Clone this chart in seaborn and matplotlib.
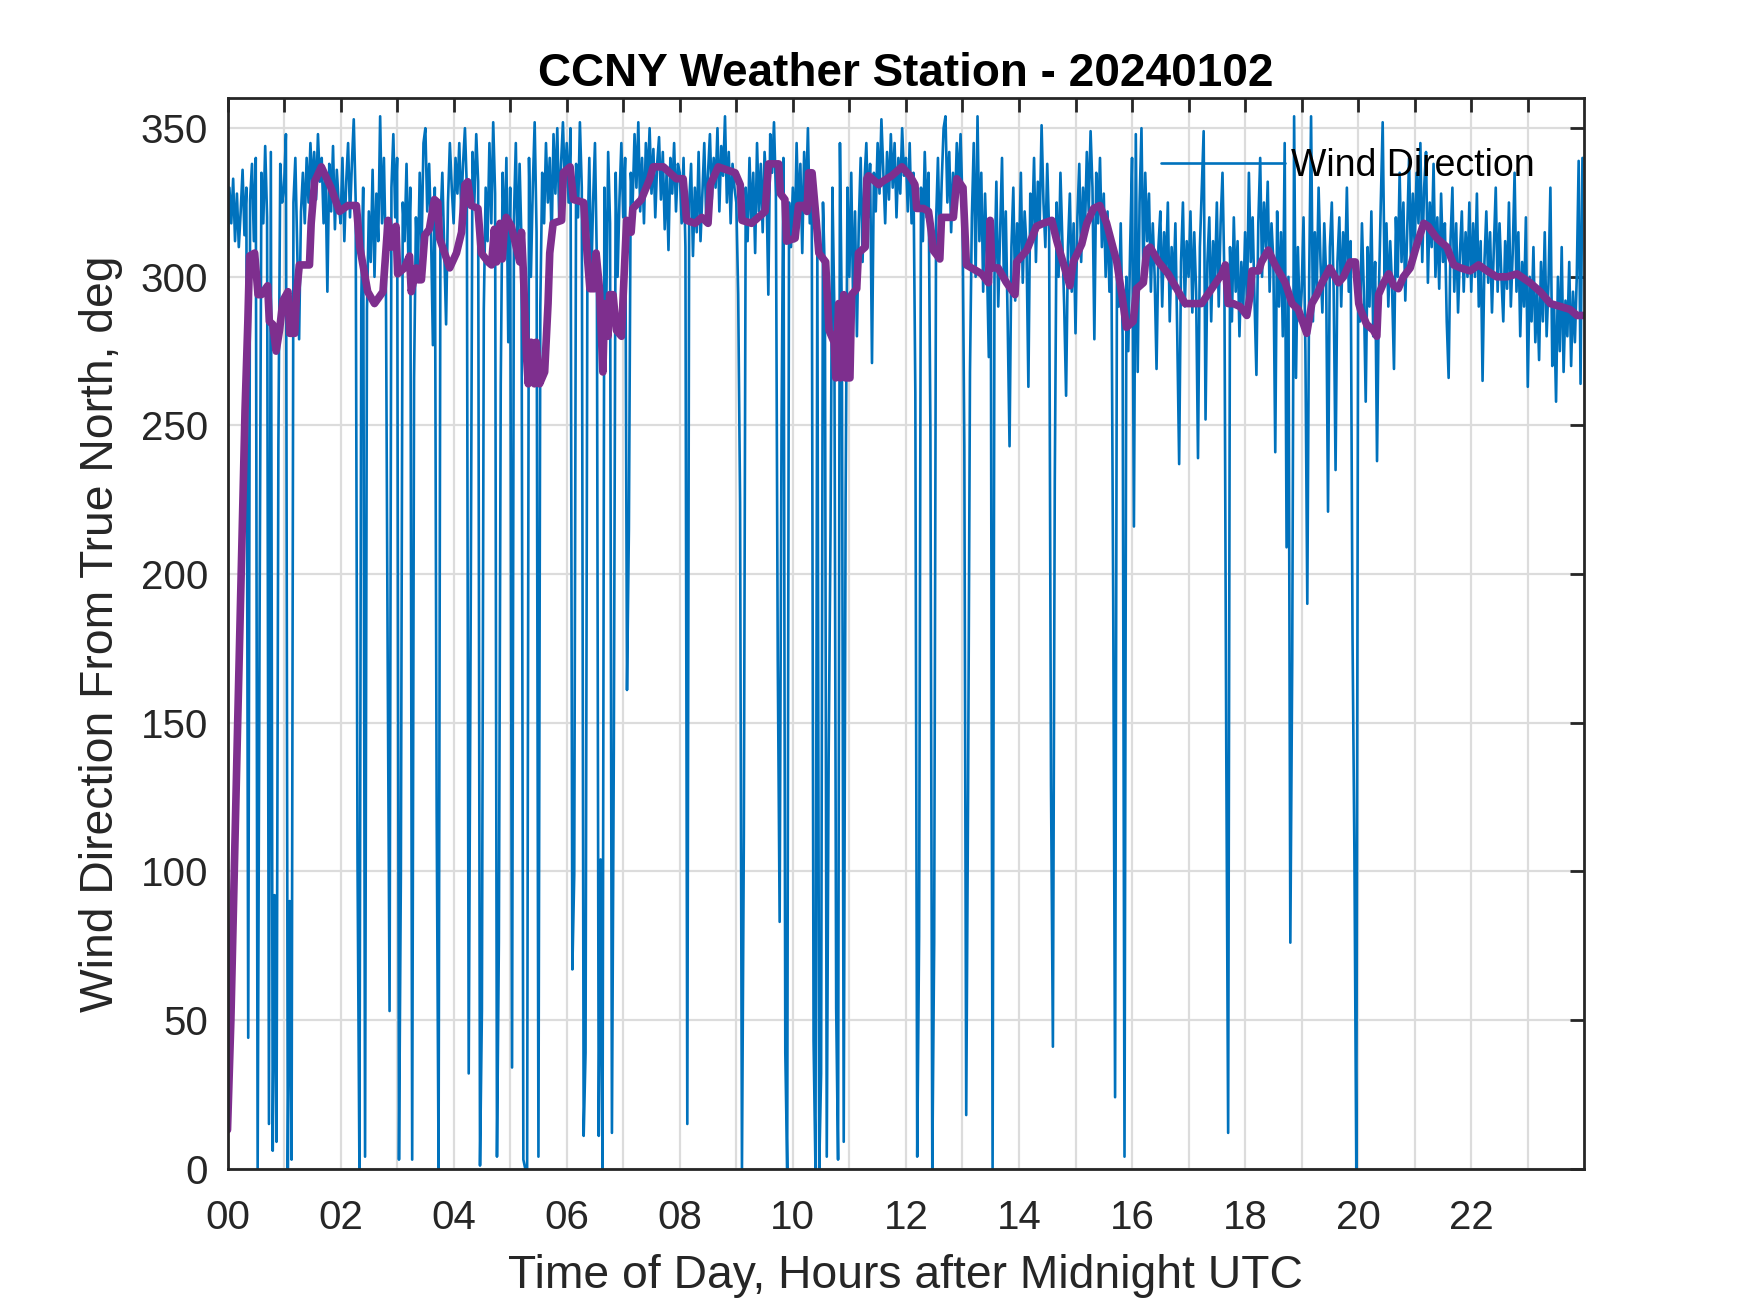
import numpy as np
import matplotlib
matplotlib.use("Agg")
import matplotlib.pyplot as plt
import seaborn as sns

# wind direction samples (deg from true north), one every 2 minutes
SAMPLE_MIN = 2

dir_00_04 = [
    305, 330, 318, 333, 312, 328, 310, 322, 336, 314, 330, 44, 326, 338, 312, 340, 0, 180, 335, 318, 344, 320, 15, 342, 6, 92, 9, 243, 338, 325,
    330, 348, 0, 90, 3, 325, 340, 310, 279, 322, 335, 318, 340, 325, 345, 330, 342, 326, 348, 332, 340, 318, 335, 295, 338, 322, 344, 316, 336, 325,
    318, 340, 312, 332, 345, 320, 338, 353, 326, 103, 0, 292, 330, 4, 289, 322, 305, 336, 300, 328, 312, 354, 318, 340, 306, 172, 53, 330, 348, 320,
    340, 3, 99, 325, 312, 338, 305, 330, 3, 266, 320, 300, 335, 310, 345, 350, 322, 338, 315, 277, 330, 120, 0, 318, 335, 310, 284, 325, 345, 330,
]
dir_04_08 = [
    318, 340, 328, 345, 322, 338, 350, 330, 32, 178, 342, 325, 348, 332, 1, 53, 289, 330, 312, 345, 318, 352, 328, 4, 76, 264, 335, 310, 340, 278,
    330, 34, 320, 345, 305, 338, 312, 3, 0, 0, 340, 300, 330, 352, 315, 4, 290, 335, 318, 345, 325, 340, 312, 348, 328, 350, 320, 338, 352, 330,
    345, 325, 350, 67, 99, 338, 320, 352, 330, 11, 39, 310, 340, 298, 325, 345, 305, 11, 104, 0, 330, 290, 342, 318, 12, 141, 335, 300, 326, 345,
    320, 340, 161, 215, 335, 325, 348, 330, 352, 322, 340, 318, 345, 332, 350, 328, 343, 320, 338, 347, 326, 342, 316, 335, 309, 340, 328, 345, 322, 338,
]
dir_08_12 = [
    335, 318, 340, 310, 15, 325, 338, 307, 330, 315, 342, 312, 328, 345, 320, 335, 348, 326, 340, 330, 350, 322, 344, 334, 354, 325, 342, 318, 338, 330,
    325, 294, 224, 0, 112, 330, 312, 340, 318, 335, 308, 345, 322, 338, 315, 342, 330, 294, 348, 335, 352, 328, 171, 83, 250, 340, 39, 0, 325, 310,
    330, 312, 345, 320, 338, 308, 342, 325, 350, 318, 335, 43, 0, 310, 0, 32, 325, 300, 4, 138, 215, 330, 290, 54, 3, 345, 285, 9, 225, 330,
    300, 335, 290, 322, 280, 318, 340, 305, 332, 345, 320, 338, 271, 335, 322, 345, 328, 353, 335, 318, 342, 326, 348, 330, 345, 320, 340, 328, 350, 334,
]
dir_12_16 = [
    340, 322, 345, 318, 335, 261, 4, 78, 330, 312, 342, 320, 335, 248, 0, 76, 318, 340, 310, 332, 350, 354, 325, 342, 315, 335, 322, 345, 330, 348,
    325, 243, 18, 127, 268, 320, 345, 300, 354, 312, 335, 295, 328, 305, 273, 318, 0, 300, 332, 290, 315, 340, 298, 322, 285, 243, 310, 330, 292, 318,
    305, 335, 298, 322, 310, 263, 328, 315, 340, 305, 332, 318, 351, 325, 310, 338, 315, 129, 41, 231, 325, 300, 335, 312, 290, 260, 310, 328, 295, 318,
    281, 320, 338, 305, 330, 315, 342, 322, 349, 330, 279, 335, 318, 340, 310, 328, 300, 322, 295, 312, 192, 24, 305, 290, 318, 280, 4, 300, 275, 310,
]
dir_16_20 = [
    340, 216, 348, 268, 325, 350, 300, 335, 312, 328, 295, 318, 300, 269, 310, 322, 290, 315, 302, 325, 285, 310, 296, 318, 280, 237, 305, 325, 290, 312,
    300, 322, 288, 315, 295, 239, 310, 330, 349, 252, 305, 320, 285, 312, 298, 325, 290, 318, 335, 300, 141, 12, 310, 285, 320, 295, 312, 280, 305, 290,
    315, 290, 335, 305, 320, 292, 267, 318, 340, 300, 325, 310, 332, 295, 318, 305, 241, 322, 290, 315, 280, 345, 209, 300, 76, 171, 354, 266, 310, 285,
    295, 320, 275, 190, 300, 354, 285, 315, 295, 330, 305, 288, 318, 300, 221, 310, 325, 295, 235, 305, 320, 290, 315, 300, 330, 295, 312, 179, 106, 0,
]
dir_20_24 = [
    300, 285, 318, 295, 258, 310, 290, 322, 280, 305, 238, 295, 325, 352, 300, 318, 290, 312, 296, 269, 320, 300, 335, 305, 325, 292, 315, 340, 305, 328,
    310, 335, 318, 345, 305, 330, 342, 298, 325, 310, 338, 300, 320, 296, 328, 305, 318, 285, 266, 312, 330, 295, 318, 288, 308, 322, 295, 315, 300, 325,
    295, 318, 300, 328, 290, 312, 265, 305, 322, 298, 315, 288, 310, 330, 295, 318, 300, 285, 312, 296, 325, 290, 308, 335, 295, 315, 280, 305, 290, 320,
    263, 300, 285, 310, 278, 295, 272, 305, 285, 315, 280, 298, 330, 270, 290, 258, 300, 275, 310, 268, 292, 280, 305, 270, 295, 278, 300, 339, 264, 340,
]

# running mean (purple), hours after midnight / deg
avg_hours = [
    0.00, 0.06, 0.18, 0.27, 0.31, 0.36, 0.39, 0.48, 0.54, 0.60, 0.71, 0.74, 0.80, 0.86, 0.92, 0.98,
    1.07, 1.10, 1.19, 1.22, 1.27, 1.45, 1.48, 1.54, 1.66, 1.83, 1.98, 2.13, 2.28, 2.34, 2.48, 2.60,
    2.75, 2.78, 2.84, 2.90, 2.98, 3.01, 3.13, 3.22, 3.25, 3.34, 3.37, 3.43, 3.49, 3.57, 3.66, 3.72,
    3.75, 3.93, 4.05, 4.14, 4.20, 4.25, 4.31, 4.43, 4.49, 4.61, 4.67, 4.72, 4.76, 4.82, 4.86, 4.90,
    4.93, 5.02, 5.17, 5.20, 5.23, 5.29, 5.32, 5.37, 5.43, 5.46, 5.52, 5.61, 5.67, 5.70, 5.76, 5.91,
    5.94, 6.06, 6.12, 6.30, 6.36, 6.41, 6.49, 6.52, 6.58, 6.64, 6.67, 6.73, 6.76, 6.82, 6.88, 6.97,
    7.00, 7.06, 7.14, 7.17, 7.32, 7.47, 7.53, 7.71, 7.94, 8.06, 8.12, 8.27, 8.39, 8.50, 8.54, 8.68,
    8.98, 9.07, 9.10, 9.27, 9.51, 9.57, 9.75, 9.78, 9.86, 9.89, 10.04, 10.10, 10.19, 10.25, 10.28, 10.34,
    10.40, 10.46, 10.58, 10.64, 10.73, 10.76, 10.81, 10.84, 10.90, 10.93, 11.01, 11.04, 11.13, 11.16, 11.28, 11.31,
    11.34, 11.52, 11.58, 11.75, 11.93, 12.07, 12.16, 12.19, 12.31, 12.40, 12.45, 12.48, 12.60, 12.63, 12.84, 12.90,
    13.01, 13.07, 13.16, 13.34, 13.46, 13.49, 13.52, 13.63, 13.78, 13.93, 13.96, 14.14, 14.31, 14.43, 14.58, 14.67,
    14.90, 14.96, 15.11, 15.20, 15.32, 15.43, 15.55, 15.73, 15.82, 15.90, 15.96, 16.02, 16.08, 16.20, 16.26, 16.32,
    16.47, 16.64, 16.79, 16.94, 17.09, 17.23, 17.41, 17.59, 17.65, 17.70, 17.79, 17.91, 18.03, 18.09, 18.12, 18.24,
    18.29, 18.41, 18.53, 18.71, 18.83, 18.94, 19.09, 19.18, 19.27, 19.36, 19.50, 19.65, 19.74, 19.86, 19.95, 20.01,
    20.04, 20.15, 20.27, 20.33, 20.36, 20.45, 20.54, 20.63, 20.71, 20.80, 20.92, 21.04, 21.16, 21.24, 21.39, 21.57,
    21.69, 21.81, 21.98, 22.13, 22.28, 22.45, 22.63, 22.81, 23.04, 23.22, 23.40, 23.58, 23.75, 23.87, 23.99,
]
avg_dir = [
    13, 50, 150, 222, 255, 285, 307, 308, 294, 294, 297, 285, 284, 275, 282, 292,
    295, 281, 281, 294, 304, 304, 318, 332, 337, 330, 322, 324, 324, 310, 295, 291,
    295, 303, 319, 310, 317, 301, 303, 307, 295, 303, 299, 299, 314, 316, 326, 325,
    313, 303, 308, 315, 331, 332, 324, 323, 308, 305, 304, 316, 305, 318, 306, 317,
    320, 317, 305, 315, 303, 273, 264, 278, 264, 278, 264, 268, 291, 308, 318, 319,
    335, 337, 326, 325, 308, 296, 296, 308, 296, 268, 291, 280, 294, 294, 282, 280,
    294, 319, 315, 323, 326, 333, 337, 337, 333, 333, 319, 318, 320, 318, 331, 337,
    335, 331, 319, 318, 322, 338, 338, 328, 326, 312, 313, 324, 324, 322, 335, 335,
    322, 308, 305, 282, 278, 266, 291, 266, 294, 266, 266, 294, 296, 308, 310, 333,
    334, 331, 332, 334, 337, 334, 331, 323, 323, 322, 315, 309, 306, 320, 320, 333,
    330, 304, 303, 301, 298, 319, 303, 303, 298, 294, 305, 309, 317, 318, 319, 312,
    297, 305, 311, 318, 323, 324, 318, 305, 294, 283, 284, 285, 296, 298, 309, 310,
    305, 301, 296, 291, 291, 291, 296, 301, 304, 291, 291, 290, 287, 294, 302, 302,
    305, 309, 304, 298, 291, 289, 281, 291, 294, 298, 303, 298, 300, 305, 305, 291,
    289, 284, 282, 280, 294, 298, 301, 297, 296, 300, 303, 311, 318, 317, 313, 310,
    304, 303, 302, 304, 302, 300, 300, 301, 298, 295, 291, 290, 289, 287, 287,
]

hour_ticks = list(range(24))
hour_labels = [f"{h:02d}" if h % 2 == 0 else "" for h in hour_ticks]
deg_ticks = [0, 50, 100, 150, 200, 250, 300, 350]

wind_dir = dir_00_04 + dir_04_08 + dir_08_12 + dir_12_16 + dir_16_20 + dir_20_24
wind_hours = np.arange(len(wind_dir)) * SAMPLE_MIN / 60.0

sns.set_style("white")
plt.rcParams['font.family'] = ['Liberation Sans', 'DejaVu Sans']

fig = plt.figure(figsize=(17.5, 13.13), dpi=100)
ax = fig.add_axes([0.13, 0.11, 0.775, 0.815])

sns.lineplot(x=wind_hours, y=wind_dir, ax=ax, color="#0072BD", linewidth=1.9,
             label="Wind Direction", estimator=None, sort=False)
sns.lineplot(x=avg_hours, y=avg_dir, ax=ax, color="#7E2F8E", linewidth=5.5,
             estimator=None, sort=False, legend=False)

ax.set_xlim(0, 23.99)
ax.set_ylim(0, 360)
ax.set_xticks(hour_ticks)
ax.set_xticklabels(hour_labels)
ax.set_yticks(deg_ticks)

ax.grid(True, color="#dcdcdc", linewidth=1.6)
ax.set_axisbelow(True)
for sp in ax.spines.values():
    sp.set_linewidth(2)
    sp.set_color("#262626")
ax.tick_params(axis="both", direction="in", length=10, width=2, top=True, right=True,
               labelsize=29, colors="#262626")
ax.tick_params(axis="x", pad=22)
ax.tick_params(axis="y", pad=14)

ax.set_title("CCNY Weather Station - 20240102", fontsize=33, fontweight="bold", pad=9, color="black")
ax.set_xlabel("Time of Day, Hours after Midnight UTC", fontsize=33.3, color="#262626")
ax.set_ylabel("Wind Direction From True North, deg", fontsize=33.3, color="#262626")
ax.xaxis.set_label_coords(0.5, -0.08)
ax.yaxis.set_label_coords(-0.077, 0.5)

handles, labels = ax.get_legend_handles_labels()
ax.legend(handles[:1], labels[:1], loc="center right", bbox_to_anchor=(0.9635, 0.937),
          frameon=False, fontsize=27, handlelength=3.3, handletextpad=0.15,
          borderpad=0, borderaxespad=0, labelcolor="black")

fig.savefig("out.png", dpi=100)
